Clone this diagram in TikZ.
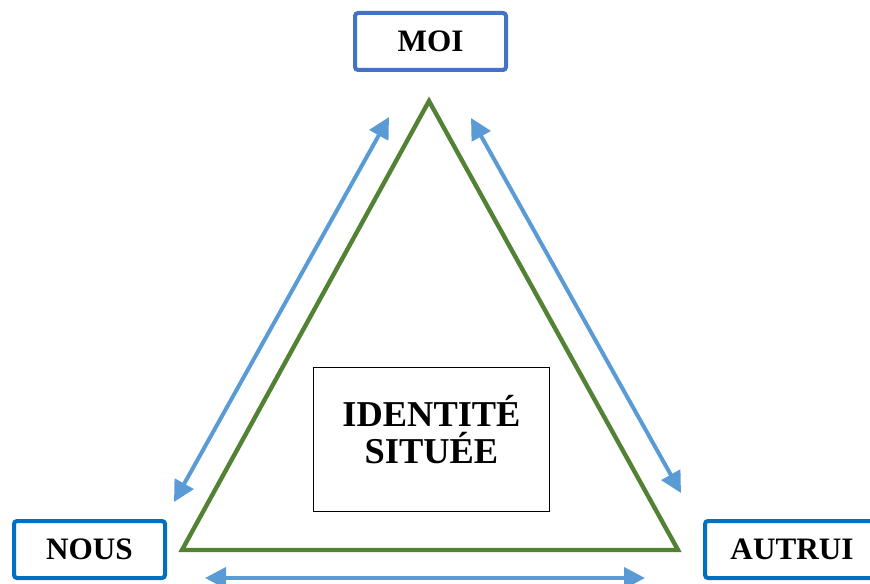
\documentclass[tikz,border=0pt]{standalone}
\usepackage{fontspec}
\setmainfont{Liberation Serif}
\usepackage{xcolor}
\usepackage{tikz}
\usetikzlibrary{arrows.meta,positioning,calc}

\definecolor{moiblue}{HTML}{4472C4}
\definecolor{poleblue}{HTML}{0070C0}
\definecolor{linkblue}{HTML}{5B9BD5}
\definecolor{trigreen}{HTML}{548235}

\begin{document}
\begin{tikzpicture}[x=0.5pt, y=-0.5pt, >={Triangle[length=10.5pt,width=10.5pt]}]
\tikzset{
pole/.style     = {draw=poleblue, shape=rectangle, line width=2pt, rounded corners=1.5pt, fill=white, minimum height=28.5pt, minimum width=75.5pt, font=\fontsize{15.6}{18}\selectfont\bfseries},
centre/.style   = {draw, shape=rectangle, line width=0.7pt, minimum height=72pt, minimum width=118pt, align=center, text depth=10pt, font=\fontsize{18.2}{18.5}\selectfont\bfseries},
link/.style     = {<->, draw=linkblue, line width=2pt},
tri/.style      = {draw=trigreen, line width=2.2pt},
}
    \useasboundingbox (0,0) rectangle (870,583);

    % Pole nodes
    \node [pole, draw=moiblue]      (moi)    at (430.5, 41.5)  {MOI};
    \node [pole]                    (nous)   at (89.5, 549.5)  {NOUS};
    \node [pole, minimum width=87pt] (autrui) at (792, 549.5)   {AUTRUI};

    % Triangle corners
    \coordinate (t_top)   at (429, 101);
    \coordinate (t_left)  at (182, 550);
    \coordinate (t_right) at (678, 550);
    \draw [tri] (t_top) -- (t_left) -- (t_right) -- cycle;

    % Centre node
    \node [centre] (identite) at (431.5, 439.5) {IDENTITÉ\\SITUÉE};

    % Link ends
    \coordinate (moi_l)    at (389, 117);
    \coordinate (nous_t)   at (174, 502);
    \coordinate (moi_r)    at (471, 118);
    \coordinate (autrui_t) at (681, 493);
    \coordinate (nous_r)   at (205, 578);
    \coordinate (autrui_l) at (645, 578);

    % Link edges
    \draw [link] (moi_l)  -- (nous_t);
    \draw [link] (moi_r)  -- (autrui_t);
    \draw [link] (nous_r) -- (autrui_l);

\end{tikzpicture}
\end{document}
